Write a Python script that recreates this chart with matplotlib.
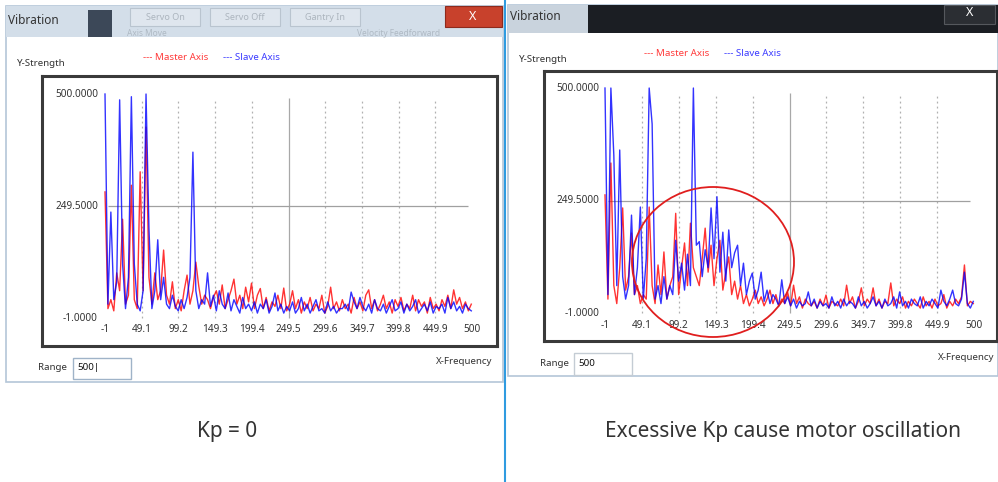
import numpy as np
import matplotlib.pyplot as plt
from matplotlib.patches import Rectangle, Ellipse

plt.rcParams['font.family'] = ['Noto Sans', 'DejaVu Sans']

# frequency bins, one every 4 units from -1 to 499
freq = np.arange(-1, 500, 4)

# Kp = 0 (left window)
kp0_master = [281, 20, 40, 15, 100, 60, 220, 30, 50, 296,
              40, 20, 326, 60, 426, 90, 30, 100, 40, 60,
              151, 50, 30, 80, 20, 40, 15, 60, 95, 30,
              60, 124, 70, 30, 50, 40, 20, 45, 60, 30,
              73, 20, 40, 60, 86, 30, 50, 20, 68, 35,
              77, 20, 50, 65, 20, 45, 15, 35, 25, 50,
              20, 66, 15, 30, 60, 20, 40, 10, 35, 20,
              45, 15, 30, 20, 50, 10, 25, 68, 20, 35,
              15, 40, 20, 30, 10, 45, 20, 35, 15, 50,
              62, 20, 40, 15, 30, 50, 20, 35, 10, 40,
              25, 45, 15, 30, 20, 50, 15, 40, 25, 35,
              10, 45, 20, 30, 15, 40, 25, 50, 20, 62,
              30, 45, 20, 35, 15, 30]
kp0_slave = [500, 30, 236, 40, 80, 487, 120, 20, 90, 494,
             120, 30, 15, 60, 500, 200, 20, 60, 174, 40,
             90, 30, 20, 50, 25, 15, 40, 20, 45, 90,
             370, 60, 20, 40, 30, 100, 25, 50, 15, 60,
             30, 20, 55, 15, 40, 25, 10, 45, 20, 30,
             15, 35, 10, 30, 20, 40, 10, 25, 55, 15,
             30, 10, 25, 15, 35, 10, 20, 45, 15, 30,
             10, 25, 40, 15, 20, 10, 35, 15, 25, 10,
             20, 20, 30, 15, 57, 35, 20, 45, 25, 15,
             30, 10, 40, 20, 15, 30, 10, 25, 40, 15,
             20, 35, 10, 30, 15, 25, 40, 10, 20, 30,
             15, 35, 10, 25, 20, 30, 10, 45, 20, 35,
             15, 25, 10, 30, 20, 15]

# excessive Kp (right window)
kphi_master = [262, 30, 333, 60, 20, 100, 233, 50, 80, 177,
               40, 60, 20, 40, 30, 235, 60, 20, 106, 40,
               135, 30, 60, 80, 221, 40, 100, 155, 60, 199,
               100, 80, 60, 120, 188, 90, 150, 60, 120, 161,
               50, 90, 124, 40, 70, 30, 60, 20, 40, 15,
               30, 50, 20, 35, 15, 30, 50, 20, 40, 15,
               30, 20, 45, 15, 61, 20, 35, 10, 30, 20,
               15, 25, 10, 30, 15, 39, 10, 25, 20, 15,
               30, 15, 61, 20, 35, 10, 25, 55, 15, 30,
               20, 55, 15, 30, 10, 25, 20, 66, 15, 30,
               20, 35, 10, 25, 15, 30, 20, 10, 35, 15,
               25, 10, 30, 15, 20, 40, 10, 25, 15, 30,
               20, 35, 106, 15, 25, 20]
kphi_slave = [500, 40, 500, 350, 60, 362, 80, 30, 60, 217,
              40, 100, 235, 30, 120, 500, 420, 30, 60, 20,
              80, 30, 60, 40, 161, 70, 110, 50, 130, 60,
              500, 150, 158, 80, 140, 100, 233, 120, 258, 90,
              179, 70, 184, 100, 133, 150, 60, 110, 40, 70,
              88, 30, 50, 90, 25, 50, 20, 40, 30, 15,
              73, 20, 35, 15, 30, 10, 25, 15, 20, 46,
              15, 30, 10, 25, 15, 20, 10, 35, 15, 25,
              10, 30, 15, 25, 20, 10, 35, 15, 25, 10,
              20, 35, 15, 25, 10, 30, 15, 20, 35, 10,
              46, 15, 25, 10, 30, 20, 15, 35, 10, 25,
              15, 30, 20, 10, 50, 25, 15, 30, 50, 20,
              15, 30, 90, 20, 10, 25]

x_ticks = [-1, 49.1, 99.2, 149.3, 199.4, 249.5, 299.6, 349.7, 399.8, 449.9, 500]
x_labels = ['-1', '49.1', '99.2', '149.3', '199.4', '249.5', '299.6',
            '349.7', '399.8', '449.9', '500']
y_ticks = [-1, 249.5, 500]
y_labels = ['-1.0000', '249.5000', '500.0000']

W, H = 998, 482
fig = plt.figure(figsize=(W / 100, H / 100), dpi=100)
bg = fig.add_axes([0, 0, 1, 1])
bg.set_xlim(0, W)
bg.set_ylim(H, 0)
bg.axis('off')

TXT = '#333333'


def px_axes(x0, y0, x1, y1, z=1):
    return fig.add_axes([x0 / W, 1 - y1 / H, (x1 - x0) / W, (y1 - y0) / H], zorder=z)


def window(x0, x1, y0, y1, frame):
    bg.add_patch(Rectangle((x0, y0), x1 - x0, y1 - y0, fc='white', ec=frame, lw=1.2))


def plot_panel(box, xlim, ylim, master, slave, xlab_y, ylab_x):
    ax = px_axes(*box, z=2)
    ax.set_xlim(*xlim)
    ax.set_ylim(*ylim)
    ax.set_xticks([])
    ax.set_yticks([])
    for s in ax.spines.values():
        s.set_linewidth(2.2)
        s.set_color('#3a3a3a')
    for v in x_ticks[1:-1]:
        if v == 249.5:
            ax.vlines(v, -1, 490, color='#a8a8a8', lw=0.9)
        else:
            ax.vlines(v, -1, 490, color='#b0b0b0', lw=0.9, linestyles=(0, (1.5, 2.5)))
    ax.hlines(249.5, 3, 495, color='#a0a0a0', lw=0.9)
    ax.plot(freq, master, color='#ff0000', lw=1.0, alpha=0.8)
    ax.plot(freq, slave, color='#0000ff', lw=1.0, alpha=0.8)
    for v, t in zip(x_ticks, x_labels):
        ax.text(v, xlab_y, t, ha='center', va='center', fontsize=7.2, color=TXT)
    for v, t in zip(y_ticks, y_labels):
        ax.text(ylab_x, v, t, ha='right', va='center', fontsize=7.2, color=TXT)
    return ax


# ---- left window ----
window(6, 503, 6, 382, '#b4c6d8')
bg.add_patch(Rectangle((6, 6), 497, 31, fc='#d3dee9', ec='none'))
bg.add_patch(Rectangle((88, 10), 24, 27, fc='#2c3848', ec='none', alpha=0.9))
for bx, lab in [(130, 'Servo On'), (210, 'Servo Off'), (290, 'Gantry In')]:
    bg.add_patch(Rectangle((bx, 8), 70, 18, fc='#dfe6ee', ec='#b9c4cf', lw=0.8))
    bg.text(bx + 35, 17, lab, ha='center', va='center', fontsize=6.5, color='#8a949e', alpha=0.6)
bg.text(127, 33, 'Axis Move', fontsize=6, color='#8a949e', alpha=0.5, va='center')
bg.text(357, 33, 'Velocity Feedforward', fontsize=6, color='#8a949e', alpha=0.5, va='center')
bg.add_patch(Rectangle((445, 6), 57, 21, fc='#c8412c', ec='#8e2a1c', lw=0.8))
bg.text(473, 16, 'X', ha='center', va='center', fontsize=9, color='white', weight='bold')
bg.text(8, 20, 'Vibration', va='center', fontsize=8.5, color=TXT)
bg.text(17, 63, 'Y-Strength', va='center', fontsize=7, color=TXT)
bg.text(143, 58, '--- Master Axis', va='center', fontsize=7, color='#ff3b3b')
bg.text(223, 58, '--- Slave Axis', va='center', fontsize=7, color='#3b3bff')
bg.text(38, 368, 'Range', va='center', fontsize=7, color=TXT)
bg.add_patch(Rectangle((73, 358), 58, 21, fc='white', ec='#9fb3c8', lw=1))
bg.text(77, 368, '500|', va='center', fontsize=7, color='#111111')
bg.text(492, 362, 'X-Frequency', ha='right', va='center', fontsize=7, color=TXT)

# ---- right window ----
window(508, 998, 5, 376, '#b4c6d8')
bg.add_patch(Rectangle((508, 5), 490, 28, fc='#1b1e23', ec='none'))
bg.add_patch(Rectangle((508, 5), 80, 28, fc='#c9d3dd', ec='none'))
bg.add_patch(Rectangle((944, 5), 51, 19, fc='#2b2e33', ec='#55585d', lw=0.8))
bg.text(970, 13, 'X', ha='center', va='center', fontsize=9, color='white', weight='bold')
bg.text(510, 16, 'Vibration', va='center', fontsize=8.5, color=TXT)
bg.text(519, 59, 'Y-Strength', va='center', fontsize=7, color=TXT)
bg.text(644, 54, '--- Master Axis', va='center', fontsize=7, color='#ff3b3b')
bg.text(724, 54, '--- Slave Axis', va='center', fontsize=7, color='#3b3bff')
bg.text(540, 364, 'Range', va='center', fontsize=7, color=TXT)
bg.add_patch(Rectangle((574, 353), 58, 22, fc='white', ec='#c4ccd4', lw=1))
bg.text(578, 364, '500', va='center', fontsize=7, color='#111111')
bg.text(994, 357, 'X-Frequency', ha='right', va='center', fontsize=7, color=TXT)

# separator line between the two screenshots
bg.vlines(505, 0, H, color='#2f9be0', lw=1.5)

# captions
bg.text(227, 432, 'Kp = 0', ha='center', va='center', fontsize=15, color=TXT)
bg.text(783, 432, 'Excessive Kp cause motor oscillation', ha='center', va='center',
        fontsize=15, color=TXT)

# ---- spectra ----
plot_panel((42, 76, 497, 346), (-87.0, 534.1), (-63.6, 540.3),
           kp0_master, kp0_slave, -25.6, -10.6)
plot_panel((544, 71, 997, 341), (-83.8, 531.2), (-63.3, 537.9),
           kphi_master, kphi_slave, -27.7, -9.1)

# red circle marking the oscillation region
top = fig.add_axes([0, 0, 1, 1], zorder=5)
top.set_xlim(0, W)
top.set_ylim(H, 0)
top.axis('off')
top.patch.set_alpha(0)
top.add_patch(Ellipse((713, 262), 162, 150, fill=False, ec='#e01e1e', lw=1.3))

fig.savefig('out.png', dpi=100)
